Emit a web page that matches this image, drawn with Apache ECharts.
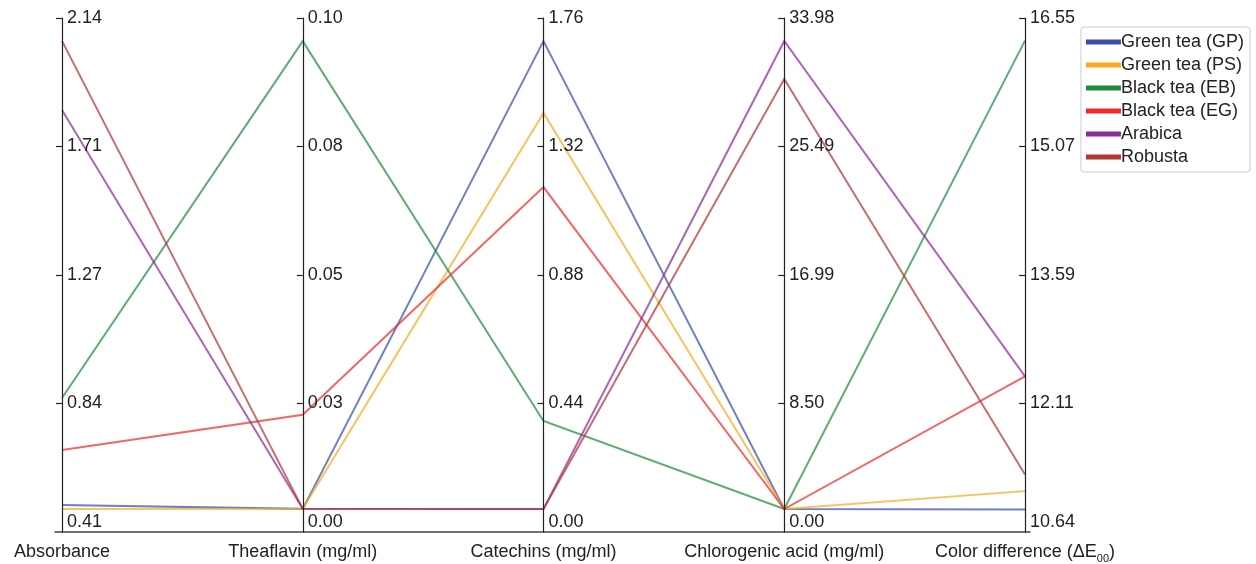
<!DOCTYPE html>
<html><head><meta charset="utf-8">
<script src="https://cdn.jsdelivr.net/npm/echarts@6/dist/echarts.min.js"></script>
<style>html,body{margin:0;padding:0;background:#fff}#c{width:1256px;height:564px}</style>
</head><body><div id="c"></div>
<script>
// Axis (dimension) names
const categories = ['Absorbance', 'Theaflavin (mg/ml)', 'Catechins (mg/ml)', 'Chlorogenic acid (mg/ml)', 'Color difference (ΔE00)'];
// Axis extents and tick labels
const axisMin = [0.41, 0.00, 0.00, 0.00, 10.64];
const axisMax = [2.14, 0.10, 1.76, 33.98, 16.55];
const tickLabels = [
  ['0.41', '0.84', '1.27', '1.71', '2.14'],
  ['0.00', '0.03', '0.05', '0.08', '0.10'],
  ['0.00', '0.44', '0.88', '1.32', '1.76'],
  ['0.00', '8.50', '16.99', '25.49', '33.98'],
  ['10.64', '12.11', '13.59', '15.07', '16.55']
];
// Series
const seriesNames = ['Green tea (GP)', 'Green tea (PS)', 'Black tea (EB)', 'Black tea (EG)', 'Arabica', 'Robusta'];
const greenGP = [0.501, 0.0045, 1.681, 1.52, 10.90];
const greenPS = [0.487, 0.0045, 1.435, 1.52, 11.11];
const blackEB = [0.861, 0.0955, 0.380, 1.52, 16.29];
const blackEG = [0.686, 0.0228, 1.181, 1.52, 12.43];
const arabica = [1.830, 0.0045, 0.079, 32.46, 12.43];
const robusta = [2.063, 0.0045, 0.079, 29.95, 11.30];
const seriesValues = [greenGP, greenPS, blackEB, blackEG, arabica, robusta];
const colors = ['#3a4fa8', '#f8ab1e', '#1e8c3e', '#ee2b2b', '#8b2c9a', '#b03535'];

const chart = echarts.init(document.getElementById('c'));
const parallelAxis = categories.map((name, i) => {
  const mn = axisMin[i], mx = axisMax[i];
  const ticks = [0, 1, 2, 3, 4].map(k => k === 4 ? mx : mn + k * (mx - mn) / 4);
  const isLast = i === categories.length - 1;
  return {
    dim: i,
    name: isLast ? '{n|Color difference (ΔE}{s|00}{n|)}' : name,
    nameLocation: 'start',
    nameGap: 11,
    nameTextStyle: {
      fontFamily: 'Liberation Sans', fontSize: 18, color: '#222',
      rich: {
        n: { fontFamily: 'Liberation Sans', fontSize: 18, color: '#222', lineHeight: 20, verticalAlign: 'top' },
        s: { fontFamily: 'Liberation Sans', fontSize: 11, color: '#222', lineHeight: 11, verticalAlign: 'top', padding: [10, 0, 0, 0] }
      }
    },
    type: 'value',
    min: mn, max: mx,
    axisLine: { lineStyle: { color: '#222', width: 1.2 } },
    axisTick: { show: true, inside: true, length: -6, lineStyle: { color: '#222', width: 1.2 }, customValues: ticks.slice(1) },
    splitLine: { show: false },
    axisLabel: {
      inside: true,
      margin: 5,
      customValues: ticks,
      fontFamily: 'Liberation Sans', fontSize: 18, color: '#222',
      formatter: function (v) {
        let best = 0, bd = Infinity;
        ticks.forEach((t, k) => { const d = Math.abs(t - v); if (d < bd) { bd = d; best = k; } });
        const txt = tickLabels[i][best];
        return best === 0 ? '{b|' + txt + '}' : txt;
      },
      rich: { b: { fontFamily: 'Liberation Sans', fontSize: 18, color: '#222', padding: [0, 0, 20, 0] } }
    }
  };
});

const series = seriesNames.map((n, i) => ({
  name: n,
  type: 'parallel',
  data: [seriesValues[i]],
  lineStyle: { color: colors[i], width: 2, opacity: 0.72 },
  emphasis: { disabled: true },
  silent: true,
  animation: false
}));

chart.setOption({
  animation: false,
  color: colors,
  parallel: { left: 62, right: 231, top: 18, bottom: 32, layout: 'horizontal' },
  parallelAxis: parallelAxis,
  grid: { left: 55, width: 975, top: 18, height: 514, show: false },
  xAxis: { type: 'value', min: 0, max: 1, axisLine: { show: true, lineStyle: { color: '#444', width: 1.5 } },
    axisTick: { show: false }, axisLabel: { show: false }, splitLine: { show: false } },
  yAxis: { type: 'value', min: 0, max: 1, show: false },
  legend: {
    orient: 'vertical', right: 6, top: 27,
    data: seriesNames.map(n => ({ name: n, icon: 'rect' })),
    itemWidth: 33, itemHeight: 3, itemGap: 5,
    padding: [6, 6, 6, 5],
    borderColor: '#ccc', borderWidth: 1, borderRadius: 3,
    textStyle: { fontFamily: 'Liberation Sans', fontSize: 18, color: '#222', padding: [0, 0, 0, -4] },
    selectedMode: false
  },
  series: series
});
</script></body></html>
